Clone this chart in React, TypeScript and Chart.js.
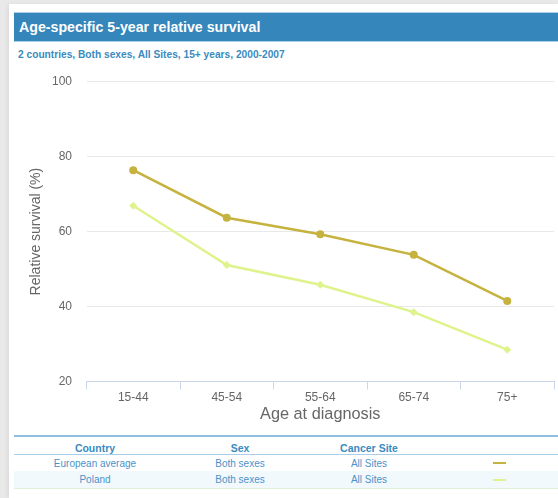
import React, { useEffect, useRef } from "react";
import { Chart, registerables } from "chart.js";

Chart.register(...registerables);

const categories = ["15-44", "45-54", "55-64", "65-74", "75+"];
const europeanAverage = [76.4, 63.7, 59.3, 53.8, 41.5];
const poland = [66.9, 51.1, 45.8, 38.5, 28.5];
const yTicks = [20, 40, 60, 80, 100];

const seriesNames = ["European average", "Poland"];
const seriesSex = ["Both sexes", "Both sexes"];
const seriesSite = ["All Sites", "All Sites"];
const seriesColors = ["#c6b23e", "#def38c"];

const FONT = "'Liberation Sans', Arial, Helvetica, sans-serif";

export default function App() {
  const canvasRef = useRef<HTMLCanvasElement | null>(null);

  useEffect(() => {
    document.body.style.margin = "0";
    const ctx = canvasRef.current;
    if (!ctx) return;
    const chart = new Chart(ctx, {
      type: "line",
      data: {
        labels: categories,
        datasets: [
          {
            label: seriesNames[0],
            data: europeanAverage,
            borderColor: seriesColors[0],
            backgroundColor: seriesColors[0],
            borderWidth: 2.5,
            pointRadius: 4,
            pointStyle: "circle",
            pointBorderWidth: 0,
            tension: 0,
          },
          {
            label: seriesNames[1],
            data: poland,
            borderColor: seriesColors[1],
            backgroundColor: seriesColors[1],
            borderWidth: 2.5,
            pointRadius: 4,
            pointStyle: "rectRot",
            pointBorderWidth: 0,
            tension: 0,
          },
        ],
      },
      options: {
        animation: false,
        responsive: false,
        maintainAspectRatio: false,
        layout: { padding: { left: 0, right: 4, top: 16, bottom: 0 } },
        plugins: {
          legend: { display: false },
          tooltip: { enabled: false },
        },
        scales: {
          x: {
            type: "category",
            offset: true,
            grid: {
              offset: true,
              drawOnChartArea: false,
              color: "#ccd6eb",
              tickLength: 8,
            },
            border: { display: true, color: "#ccd6eb", width: 1 },
            ticks: {
              color: "#666666",
              font: { family: FONT, size: 12 },
              padding: 1,
            },
            title: {
              display: true,
              text: "Age at diagnosis",
              color: "#666666",
              font: { family: FONT, size: 16.3 },
              padding: { top: 2, bottom: 3 },
            },
            afterFit: (scale: any) => {
              scale.height = 45.5;
            },
          },
          y: {
            min: 20,
            max: 100,
            afterBuildTicks: (scale: any) => {
              scale.ticks = yTicks.map((v) => ({ value: v }));
            },
            grid: {
              color: "#e8e8e8",
              drawTicks: false,
              lineWidth: 1,
            },
            border: { display: false },
            ticks: {
              color: "#666666",
              font: { family: FONT, size: 12 },
              padding: 14.5,
            },
            title: {
              display: true,
              text: "Relative survival (%)",
              color: "#666666",
              font: { family: FONT, size: 14 },
              padding: { top: 14, bottom: 0 },
            },
            afterFit: (scale: any) => {
              scale.width = 72.5;
            },
          },
        },
      },
    });
    return () => chart.destroy();
  }, []);

  const blue = "#3a8bc0";

  const cell = (x: number, text: string, bold: boolean) => (
    <div
      style={{
        position: "absolute",
        left: x - 80,
        width: 160,
        top: 0,
        height: "100%",
        display: "flex",
        alignItems: "center",
        justifyContent: "center",
        fontWeight: bold ? "bold" : "normal",
        fontSize: bold ? 10.5 : 10,
        color: bold ? "#3a8bc0" : "#4a92c8",
        whiteSpace: "nowrap",
      }}
    >
      {text}
    </div>
  );

  return (
    <div
      style={{
        position: "fixed",
        left: 0,
        top: 0,
        width: 558,
        height: 498,
        background: "#e9e9e9",
        overflow: "hidden",
        fontFamily: FONT,
      }}
    >
      <div
        style={{
          position: "absolute",
          left: 9,
          top: 4,
          right: 0,
          bottom: 0,
          background: "#ffffff",
          boxShadow: "-2px 0 4px rgba(0,0,0,0.06)",
        }}
      />
      <div
        style={{
          position: "absolute",
          left: 14,
          top: 12,
          width: 544,
          height: 30,
          background: "#3586bb",
          borderTop: "1px solid #a9d0ea",
          borderBottom: "1px solid #a9d0ea",
          boxSizing: "border-box",
          color: "#ffffff",
          fontWeight: "bold",
          fontSize: 14.2,
          lineHeight: "28px",
          paddingLeft: 5,
        }}
      >
        Age-specific 5-year relative survival
      </div>
      <div
        style={{
          position: "absolute",
          left: 18,
          top: 49,
          color: blue,
          fontWeight: "bold",
          fontSize: 10.2,
          lineHeight: "12px",
          whiteSpace: "nowrap",
        }}
      >
        2 countries, Both sexes, All Sites, 15+ years, 2000-2007
      </div>
      <canvas
        ref={canvasRef}
        width={544}
        height={367}
        style={{ position: "absolute", left: 14, top: 60, width: 544, height: 367 }}
      />
      {/* table */}
      <div
        style={{
          position: "absolute",
          left: 14,
          top: 435,
          width: 544,
          height: 2,
          background: "#8dbfe2",
        }}
      />
      <div style={{ position: "absolute", left: 0, top: 441, width: 558, height: 13 }}>
        {cell(95, "Country", true)}
        {cell(240, "Sex", true)}
        {cell(369, "Cancer Site", true)}
      </div>
      <div
        style={{
          position: "absolute",
          left: 14,
          top: 454,
          width: 544,
          height: 1,
          background: "#a9cfea",
        }}
      />
      <div style={{ position: "absolute", left: 0, top: 455, width: 558, height: 16 }}>
        {cell(95, seriesNames[0], false)}
        {cell(240, seriesSex[0], false)}
        {cell(369, seriesSite[0], false)}
        <div
          style={{
            position: "absolute",
            left: 493,
            top: 7,
            width: 13,
            height: 2,
            background: seriesColors[0],
          }}
        />
      </div>
      <div
        style={{
          position: "absolute",
          left: 14,
          top: 471,
          width: 544,
          height: 17,
          background: "#f1f9fd",
        }}
      >
        <div style={{ position: "absolute", left: -14, top: 0, width: 558, height: 17 }}>
          {cell(95, seriesNames[1], false)}
          {cell(240, seriesSex[1], false)}
          {cell(369, seriesSite[1], false)}
          <div
            style={{
              position: "absolute",
              left: 493,
              top: 8,
              width: 13,
              height: 2,
              background: seriesColors[1],
            }}
          />
        </div>
      </div>
      <div
        style={{
          position: "absolute",
          left: 14,
          top: 488,
          width: 544,
          height: 1,
          background: "#e2eed6",
        }}
      />
    </div>
  );
}
